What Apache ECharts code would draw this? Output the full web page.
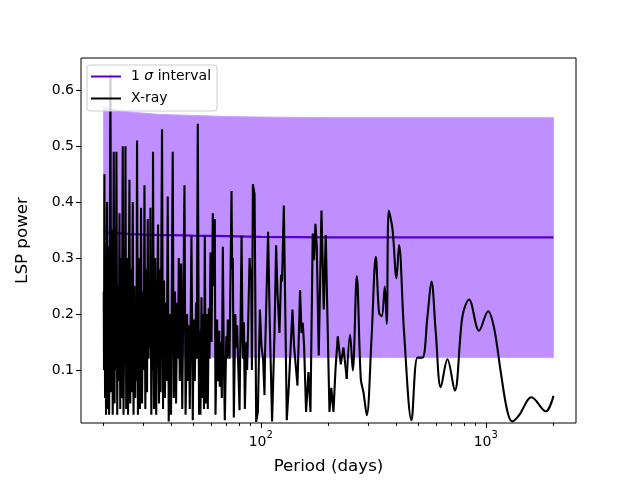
<!DOCTYPE html>
<html><head><meta charset="utf-8">
<script src="https://cdn.jsdelivr.net/npm/echarts@6/dist/echarts.min.js"></script>
<style>html,body{margin:0;padding:0;background:#fff}#c{width:640px;height:480px}</style>
</head><body><div id="c"></div>
<script>
const xrayPeriod = [20.05,20.11,20.19,20.32,20.42,20.53,20.74,20.89,21.04,21.19,
21.47,21.65,21.83,21.98,22.21,22.39,22.55,22.67,22.83,23.02,
23.21,23.38,23.55,23.74,23.93,24.10,24.35,24.55,24.78,24.91,
25.04,25.24,25.50,25.71,26.08,26.30,26.51,26.70,26.98,27.20,
27.45,27.67,27.88,28.02,28.19,28.45,28.77,29.04,29.37,29.67,
29.97,30.19,30.41,30.69,30.97,31.23,31.45,31.70,32.00,32.17,
32.33,32.63,32.93,33.03,33.20,33.54,33.95,34.30,34.95,35.30,
35.56,35.85,36.40,36.78,37.15,37.50,37.89,38.20,38.59,38.99,
39.51,39.92,40.62,41.04,41.59,42.02,42.54,42.89,43.20,43.64,
44.23,44.78,45.80,46.32,47.03,47.52,47.96,48.35,49.20,49.86,
50.37,50.89,51.58,51.95,52.48,53.18,53.57,53.95,54.51,55.07,
55.52,55.93,56.39,56.97,57.55,58.15,58.75,59.17,59.78,60.40,
61.21,61.84,62.47,62.92,63.97,64.42,65.42,65.76,66.44,67.12,
67.81,68.51,69.22,70.29,70.87,71.38,72.64,74.14,74.60,75.14,
75.91,77.09,77.73,78.53,79.50,80.48,82.16,83.00,83.51,84.11,
84.98,86.30,87.01,89.18,89.91,90.65,91.31,92.25,93.87,95.42,
97.10,99.11,100.7,102.4,103.9,104.5,107.8,109.7,112.3,115.1,
117.0,118.7,121.1,123.1,124.3,126.6,128.2,130.5,133.2,138.3,
140.6,143.5,145.6,149.5,151.7,153.7,155.8,159.0,162.9,166.3,
170.2,172.5,175.0,177.4,181.0,186.1,190.5,194.5,198.5,202.0,
205.8,210.4,214.8,219.9,226.8,233.1,241.1,
249.4,256.4,267.1,278.3,286,295.9,310.5,324.5,335.6,345.0,
355.7,363.1,370.6,384.9,401.0,411.8,433.4,467.5,497.1,523.2,
550.7,573.7,599.5,631.0,675.6,728.3,787.7,843.0,933.7,1024,
1089,1166,1249,1314,1406,1597,1849,2000];
const xrayPower = [0.24,0.10,0.45,0.05,0.30,0.02,0.40,0.03,0.32,0.02,
0.628,0.06,0.35,0.02,0.49,0.04,0.28,0.10,0.49,0.02,
0.25,0.08,0.38,0.03,0.30,0.05,0.50,0.02,0.22,0.12,
0.50,0.03,0.30,0.02,0.44,0.04,0.28,0.06,0.40,0.02,
0.25,0.05,0.20,0.08,0.51,0.02,0.30,0.03,0.39,0.04,
0.24,0.10,0.43,0.03,0.28,0.06,0.37,0.12,0.25,0.14,
0.39,0.02,0.22,0.10,0.49,0.03,0.30,0.02,0.36,0.04,
0.28,0.06,0.53,0.03,0.26,0.05,0.22,0.08,0.41,0.008,
0.20,0.02,0.49,0.05,0.24,0.04,0.22,0.12,0.30,0.08,
0.29,0.03,0.43,0.02,0.20,0.08,0.18,0.03,0.34,0.01,
0.19,0.08,0.22,0.12,0.54,0.02,0.17,0.02,0.23,0.05,
0.20,0.03,0.34,0.04,0.20,0.03,0.21,0.12,0.31,0.15,
0.38,0.25,0.37,0.02,0.19,0.08,0.17,0.07,0.15,0.05,
0.32,0.12,0.01,0.16,0.12,0.19,0.12,0.42,0.28,0.30,
0.015,0.20,0.14,0.18,0.10,0.028,0.34,0.15,0.12,0.185,
0.03,0.15,0.10,0.30,0.27,0.28,0.10,0.432,0.414,0.007,
0.025,0.208,0.143,0.12,0.055,0.13,0.347,0.179,0.008,0.166,
0.323,0.237,0.166,0.27,0.258,0.394,0.237,0.01,0.07,0.208,
0.143,0.143,0.072,0.243,0.166,0.184,0.143,0.025,0.096,0.025,
0.344,0.296,0.361,0.32,0.126,0.385,0.208,0.341,0.166,0.025,
0.068,0.025,0.10,0.16,0.11,0.14,0.084,
0.163,0.099,0.268,0.084,0.06,0.019,0.155,0.302,0.202,0.196,
0.249,0.182,0.385,0.352,0.264,0.323,0.167,0.01,0.122,0.122,
0.196,0.258,0.167,0.069,0.119,0.063,0.196,0.226,0.17,0.205,
0.175,0.096,0.025,0.008,0.019,0.051,0.026,0.054];

const bandPeriod = [20, 21, 22, 24, 26, 30, 35, 40, 50, 70, 100, 200, 500, 1000, 2000];
const bandUpper = [0.571,0.568,0.566,0.563,0.561,0.559,0.557,0.556,0.555,0.553,0.552,0.551,0.551,0.551,0.551];
const bandLower = [0.122,0.122,0.122,0.122,0.122,0.122,0.122,0.122,0.122,0.122,0.122,0.122,0.122,0.122,0.122];
const meanPower = [0.347,0.346,0.345,0.344,0.343,0.342,0.341,0.341,0.340,0.339,0.338,0.337,0.337,0.337,0.337];

const xMajorTicks = [100, 1000];
const xMinorTicks = [20,30,40,50,60,70,80,90,200,300,400,500,600,700,800,900,2000];
const yTicks = [0.1,0.2,0.3,0.4,0.5,0.6];

const X_MIN = 15.887, X_MAX = 2517.9, Y_MIN = 0.0051, Y_MAX = 0.6576;
const SPLIT = 241.1;
const FONT = 'DejaVu Sans';

const pts = xrayPeriod.map((p, i) => [p, xrayPower[i]]);
const leftPts = pts.filter(d => d[0] <= SPLIT);
const rightPts = pts.filter(d => d[0] >= SPLIT);

function tickSeries(data, dir, len) {
  return {
    type: 'custom', silent: true, z: 10, clip: false,
    data: data,
    renderItem: function (params, api) {
      const p = api.coord([api.value(0), api.value(1)]);
      let shape;
      if (dir === 'x') {
        const x = Math.round(p[0]) + 0.5;
        shape = {x1: x, y1: p[1], x2: x, y2: p[1] + len};
      } else {
        const y = Math.round(p[1]) + 0.5;
        shape = {x1: p[0] - len, y1: y, x2: p[0], y2: y};
      }
      return {type: 'line', shape: shape, style: {stroke: '#000', lineWidth: 1.1}};
    }
  };
}

const bandSeries = {
  type: 'custom', silent: true, z: 1, clip: false,
  data: [[bandPeriod[0], bandLower[0]]],
  renderItem: function (params, api) {
    const poly = [];
    for (let i = 0; i < bandPeriod.length; i++) poly.push(api.coord([bandPeriod[i], bandUpper[i]]));
    for (let i = bandPeriod.length - 1; i >= 0; i--) poly.push(api.coord([bandPeriod[i], bandLower[i]]));
    return {type: 'polygon', shape: {points: poly},
      style: {fill: '#bf8fff', stroke: '#c9a3ff', lineWidth: 1}};
  }
};

const chart = echarts.init(document.getElementById('c'));
chart.setOption({
  backgroundColor: '#fff',
  animation: false,
  grid: {left: 81, right: 64, top: 58, bottom: 54, show: true, borderColor: '#000', borderWidth: 1, backgroundColor: 'transparent'},
  legend: {
    left: 87, top: 65,
    orient: 'vertical',
    padding: [3, 6, 4, 4],
    itemGap: 5,
    itemWidth: 30, itemHeight: 2,
    backgroundColor: 'rgba(255,255,255,0.8)',
    borderColor: '#cccccc', borderWidth: 1, borderRadius: 3,
    data: [{name: '1 σ interval', icon: 'rect'}, {name: 'X-ray', icon: 'rect'}],
    formatter: n => n.replace('σ', '{i|σ}'),
    textStyle: {fontFamily: FONT, fontSize: 14, color: '#000', lineHeight: 17, padding: [0, 0, 0, 5],
      rich: {i: {fontFamily: FONT, fontSize: 14, fontStyle: 'italic', color: '#000'}}}
  },
  xAxis: {
    type: 'log', logBase: 10, min: X_MIN, max: X_MAX,
    name: 'Period (days)', nameLocation: 'middle', nameGap: 35,
    nameTextStyle: {fontFamily: FONT, fontSize: 16.7, color: '#000'},
    axisLine: {show: false}, axisTick: {show: false}, splitLine: {show: false}, minorTick: {show: false},
    axisLabel: {
      showMinLabel: false, showMaxLabel: false, margin: 7,
      formatter: v => '{b|10}{s|' + Math.round(Math.log10(v)) + '}',
      rich: {
        b: {fontFamily: FONT, fontSize: 14, color: '#000', verticalAlign: 'bottom', lineHeight: 19},
        s: {fontFamily: FONT, fontSize: 10, color: '#000', verticalAlign: 'top', lineHeight: 19}
      }
    }
  },
  yAxis: {
    type: 'value', min: Y_MIN, max: Y_MAX,
    name: 'LSP power', nameLocation: 'middle', nameGap: 50,
    nameTextStyle: {fontFamily: FONT, fontSize: 16.7, color: '#000'},
    axisLine: {show: false}, axisTick: {show: false}, splitLine: {show: false},
    axisLabel: {showMinLabel: false, showMaxLabel: false, margin: 7, fontFamily: FONT, fontSize: 14, color: '#000'}
  },
  series: [
    bandSeries,
    {name: '1 σ interval', type: 'line', symbol: 'none', silent: true,
     data: bandPeriod.map((p, i) => [p, meanPower[i]]),
     itemStyle: {color: '#5500cc'}, lineStyle: {color: '#5500cc', width: 2.2}, z: 2},
    {name: 'X-ray', type: 'line', symbol: 'none', silent: true, data: leftPts,
     itemStyle: {color: '#000'}, lineStyle: {color: '#000', width: 2.1}, z: 3},
    {name: 'X-ray', type: 'line', symbol: 'none', silent: true, data: rightPts, smooth: 0.35,
     itemStyle: {color: '#000'}, lineStyle: {color: '#000', width: 2.1}, z: 3},
    tickSeries(xMajorTicks.map(v => [v, Y_MIN]), 'x', 4.9),
    tickSeries(xMinorTicks.map(v => [v, Y_MIN]), 'x', 2.8),
    tickSeries(yTicks.map(v => [X_MIN, v]), 'y', 4.9)
  ]
});
</script>
</body></html>
